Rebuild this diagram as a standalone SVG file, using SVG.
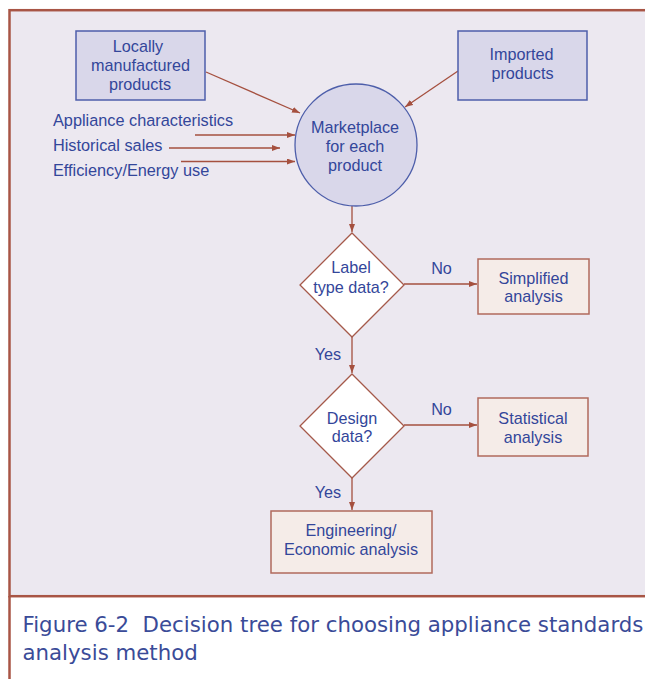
<svg xmlns="http://www.w3.org/2000/svg" width="645" height="679" viewBox="0 0 645 679">
  <defs>
    <marker id="arr" markerUnits="userSpaceOnUse" markerWidth="9" markerHeight="7" refX="8" refY="3" orient="auto">
      <path d="M0,0 L8,3 L0,6 z" fill="#A5503F"/>
    </marker>
  </defs>
  <style>
    .t { font-family: "Liberation Sans", Arial, sans-serif; font-size: 16.2px; fill: #33469A; text-anchor: middle; }
    .tl { font-family: "Liberation Sans", Arial, sans-serif; font-size: 16.3px; fill: #33469A; }
    .src { fill: #D9D7EA; stroke: #4D5EAA; stroke-width: 1.5; }
    .res { fill: #F5ECE8; stroke: #B06A5C; stroke-width: 1.5; }
    .dec { fill: #FFFFFF; stroke: #A5594A; stroke-width: 1.3; }
    .c { stroke: #A5503F; stroke-width: 1.3; fill: none; marker-end: url(#arr); }
    .cap { font-family: "DejaVu Sans", "Liberation Sans", sans-serif; font-size: 21.3px; fill: #3A4B98; white-space: pre; }
  </style>
  <rect x="0" y="0" width="645" height="679" fill="#FFFFFF"/>
  <rect x="9.5" y="10.2" width="700" height="586" fill="#ECE8F0" stroke="#A85545" stroke-width="2.5"/>
  <line x1="9.5" y1="596" x2="9.5" y2="679" stroke="#A85545" stroke-width="2.5"/>

  <g id="connectors">
    <line class="c" x1="206" y1="72" x2="300" y2="113"/>
    <line class="c" x1="458" y1="71" x2="405" y2="107"/>
    <line class="c" x1="195" y1="135" x2="295" y2="135"/>
    <line class="c" x1="169" y1="148" x2="280" y2="148"/>
    <line class="c" x1="181" y1="161.5" x2="295" y2="161.5"/>
    <line class="c" x1="352" y1="206" x2="352" y2="232"/>
    <line class="c" x1="404" y1="284" x2="477" y2="284"/>
    <line class="c" x1="352" y1="337" x2="352" y2="373"/>
    <line class="c" x1="404" y1="425" x2="477" y2="425"/>
    <line class="c" x1="352" y1="478" x2="352" y2="510"/>
    <text class="t" x="441.5" y="274">No</text>
    <text class="t" x="328" y="360">Yes</text>
    <text class="t" x="441.5" y="415">No</text>
    <text class="t" x="328" y="498">Yes</text>
  </g>

  <g id="locally">
    <rect class="src" x="76" y="31" width="129" height="69"/>
    <text class="t" x="138" y="51.5">Locally</text>
    <text class="t" x="140.5" y="70.5">manufactured</text>
    <text class="t" x="140" y="89.5">products</text>
  </g>
  <g id="imported">
    <rect class="src" x="458" y="31" width="129" height="69"/>
    <text class="t" x="521.5" y="59.5">Imported</text>
    <text class="t" x="522.5" y="78.5">products</text>
  </g>
  <g id="inputs">
    <text class="tl" x="53" y="126">Appliance characteristics</text>
    <text class="tl" x="53" y="151">Historical sales</text>
    <text class="tl" x="53" y="176">Efficiency/Energy use</text>
  </g>
  <g id="marketplace">
    <circle cx="356" cy="145" r="61" fill="#D9D7EA" stroke="#4D5EAA" stroke-width="1.3"/>
    <text class="t" x="355" y="133">Marketplace</text>
    <text class="t" x="355" y="152">for each</text>
    <text class="t" x="355" y="171">product</text>
  </g>
  <g id="label-type">
    <polygon class="dec" points="352,233 404,285 352,337 300,285"/>
    <text class="t" x="351" y="273">Label</text>
    <text class="t" x="351" y="292.5">type data?</text>
  </g>
  <g id="simplified">
    <rect class="res" x="478" y="259" width="111" height="55"/>
    <text class="t" x="533.5" y="283.5">Simplified</text>
    <text class="t" x="533.5" y="302">analysis</text>
  </g>
  <g id="design">
    <polygon class="dec" points="352,374 404,426 352,478 300,426"/>
    <text class="t" x="352" y="423.5">Design</text>
    <text class="t" x="352" y="442">data?</text>
  </g>
  <g id="statistical">
    <rect class="res" x="478" y="398" width="110" height="58"/>
    <text class="t" x="533" y="423.5">Statistical</text>
    <text class="t" x="533" y="443">analysis</text>
  </g>
  <g id="engineering">
    <rect class="res" x="271" y="511" width="161" height="62"/>
    <text class="t" x="351" y="536">Engineering/</text>
    <text class="t" x="351" y="555">Economic analysis</text>
  </g>

  <g id="caption">
    <text class="cap" x="22.5" y="632" xml:space="preserve">Figure 6-2  Decision tree for choosing appliance standards</text>
    <text class="cap" x="22.5" y="660">analysis method</text>
  </g>
</svg>
